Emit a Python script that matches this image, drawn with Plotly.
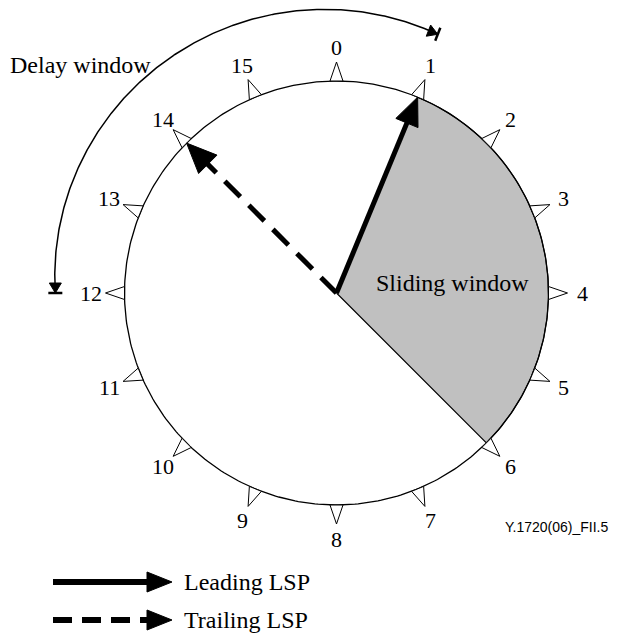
import numpy as np
import plotly.graph_objects as go

# ---------------- data ----------------
positions = list(range(16))
tick_labels = [str(p) for p in positions]
sliding_window = (1, 6)        # start / end position of the sliding window
leading_lsp = 1                # position pointed at by the leading LSP
trailing_lsp = 14              # position pointed at by the trailing LSP
delay_window = (12, 16.95)     # delay window span (wraps past 0 to just before 1)
legend_items = ["Leading LSP", "Trailing LSP"]
texts = {"sliding": "Sliding window", "delay": "Delay window", "figid": "Y.1720(06)_FII.5"}

# ---------------- geometry / style ----------------
W, H = 622, 633
OFF = 8                        # page body margin
CX, CY = 336.5, 293.0
R = 212.0
TICK_LEN = 19.0
TICK_HALF = 6.5
LABEL_R = 246.0
# delay-window curve radius profile (angle in degrees clockwise from top -> radius)
DELAY_ANG = [270, 289, 309, 321, 336, 361, 381]
DELAY_RAD = [283, 281, 290, 292, 286, 281, 279]
DELAY_FIT = np.polyfit(DELAY_ANG, DELAY_RAD, 3)
N = len(positions)
SERIF = "Liberation Serif"
SANS = "Liberation Sans"


def ang(p):
    return 2 * np.pi * p / N


def pt(p, r):
    a = ang(p)
    return CX + r * np.sin(a), CY - r * np.cos(a)


def delay_r(p):
    return float(np.polyval(DELAY_FIT, 360.0 * p / N))


fig = go.Figure()

# sliding window sector
ts = np.linspace(sliding_window[0], sliding_window[1], 120)
sx = [CX] + [pt(t, R)[0] for t in ts] + [CX]
sy = [CY] + [pt(t, R)[1] for t in ts] + [CY]
fig.add_trace(go.Scatter(x=sx, y=sy, mode="lines", fill="toself", fillcolor="#c0c0c0",
                         line=dict(color="black", width=1.1), hoverinfo="skip"))

# main circle
tc = np.linspace(0, N, 400)
fig.add_trace(go.Scatter(x=[pt(t, R)[0] for t in tc], y=[pt(t, R)[1] for t in tc], mode="lines",
                         line=dict(color="black", width=1.3), hoverinfo="skip"))

# tick triangles
tx, ty = [], []
for p in positions:
    a = ang(p)
    bx, by = pt(p, R)
    tgx, tgy = np.cos(a), np.sin(a)
    axp, ayp = pt(p, R + TICK_LEN)
    tx += [bx - TICK_HALF * tgx, axp, bx + TICK_HALF * tgx, bx - TICK_HALF * tgx, None]
    ty += [by - TICK_HALF * tgy, ayp, by + TICK_HALF * tgy, by - TICK_HALF * tgy, None]
fig.add_trace(go.Scatter(x=tx, y=ty, mode="lines", fill="toself", fillcolor="white",
                         line=dict(color="black", width=1.0), hoverinfo="skip"))


def arrow(x0, y0, x1, y1, head_len, head_w, width, dash="solid"):
    dx, dy = x1 - x0, y1 - y0
    L = np.hypot(dx, dy)
    ux, uy = dx / L, dy / L
    nx, ny = -uy, ux
    bx, by = x1 - head_len * ux, y1 - head_len * uy
    fig.add_trace(go.Scatter(x=[x0, bx + 2 * ux], y=[y0, by + 2 * uy], mode="lines",
                             line=dict(color="black", width=width, dash=dash), hoverinfo="skip"))
    hx = [x1, bx + head_w / 2 * nx, bx - head_w / 2 * nx, x1]
    hy = [y1, by + head_w / 2 * ny, by - head_w / 2 * ny, y1]
    fig.add_trace(go.Scatter(x=hx, y=hy, mode="lines", fill="toself", fillcolor="black",
                             line=dict(color="black", width=1), hoverinfo="skip"))


# leading / trailing LSP arrows
lx, ly = pt(leading_lsp, R)
arrow(CX, CY, lx, ly, 28, 24, 5)
trx, tryy = pt(trailing_lsp, R)
arrow(CX, CY, trx, tryy, 30, 26, 5, dash="22px,12px")

# delay window arc
td = np.linspace(delay_window[0], delay_window[1], 300)
dxs = [pt(t, delay_r(t))[0] for t in td]
dys = [pt(t, delay_r(t))[1] for t in td]
fig.add_trace(go.Scatter(x=dxs, y=dys, mode="lines", line=dict(color="black", width=1.5), hoverinfo="skip"))


def arc_head(p, direction):
    a = ang(p)
    tipx, tipy = pt(p, delay_r(p))
    ux, uy = direction * np.cos(a), direction * np.sin(a)
    nx, ny = -uy, ux
    hl, hw = 10, 12
    bx, by = tipx - hl * ux, tipy - hl * uy
    fig.add_trace(go.Scatter(x=[tipx, bx + hw / 2 * nx, bx - hw / 2 * nx, tipx],
                             y=[tipy, by + hw / 2 * ny, by - hw / 2 * ny, tipy],
                             mode="lines", fill="toself", fillcolor="black",
                             line=dict(color="black", width=1), hoverinfo="skip"))
    fig.add_trace(go.Scatter(x=[tipx + 7 * nx, tipx - 7 * nx], y=[tipy + 7 * ny, tipy - 7 * ny],
                             mode="lines", line=dict(color="black", width=2.5), hoverinfo="skip"))


arc_head(delay_window[0], -1)
arc_head(delay_window[1], 1)

# legend arrows
fig.add_trace(go.Scatter(x=[53, 150], y=[582, 582], mode="lines", line=dict(color="black", width=6), hoverinfo="skip"))
fig.add_trace(go.Scatter(x=[172, 147, 147, 172], y=[582, 572, 592, 582], mode="lines", fill="toself",
                         fillcolor="black", line=dict(color="black", width=1), hoverinfo="skip"))
fig.add_trace(go.Scatter(x=[53, 150], y=[620, 620], mode="lines",
                         line=dict(color="black", width=6, dash="19px,10px"), hoverinfo="skip"))
fig.add_trace(go.Scatter(x=[172, 147, 147, 172], y=[620, 610, 630, 620], mode="lines", fill="toself",
                         fillcolor="black", line=dict(color="black", width=1), hoverinfo="skip"))

annotations = []
for p, lab in zip(positions, tick_labels):
    x, y = pt(p, LABEL_R)
    annotations.append(dict(x=x, y=y, text=lab, showarrow=False, xanchor="center", yanchor="middle",
                            font=dict(family=SERIF, size=22, color="black")))
annotations.append(dict(x=452, y=283, text=texts["sliding"], showarrow=False, xanchor="center", yanchor="middle",
                        font=dict(family=SERIF, size=24, color="black")))
annotations.append(dict(x=80, y=65, text=texts["delay"], showarrow=False, xanchor="center", yanchor="middle",
                        font=dict(family=SERIF, size=24, color="black")))
annotations.append(dict(x=503, y=527, text=texts["figid"], showarrow=False, xanchor="left", yanchor="middle",
                        font=dict(family=SANS, size=14, color="black")))
for yv, lab in zip([582, 620], legend_items):
    annotations.append(dict(x=182, y=yv, text=lab, showarrow=False, xanchor="left", yanchor="middle",
                            font=dict(family=SERIF, size=24, color="black")))

fig.update_layout(
    width=W, height=H, autosize=False,
    margin=dict(l=0, r=0, t=0, b=0),
    paper_bgcolor="white", plot_bgcolor="white",
    showlegend=False,
    xaxis=dict(range=[OFF, W + OFF], visible=False, fixedrange=True),
    yaxis=dict(range=[H + OFF, OFF], visible=False, fixedrange=True),
    annotations=annotations,
)
for tr in fig.data:
    tr.showlegend = False

fig.write_html("out.html")
